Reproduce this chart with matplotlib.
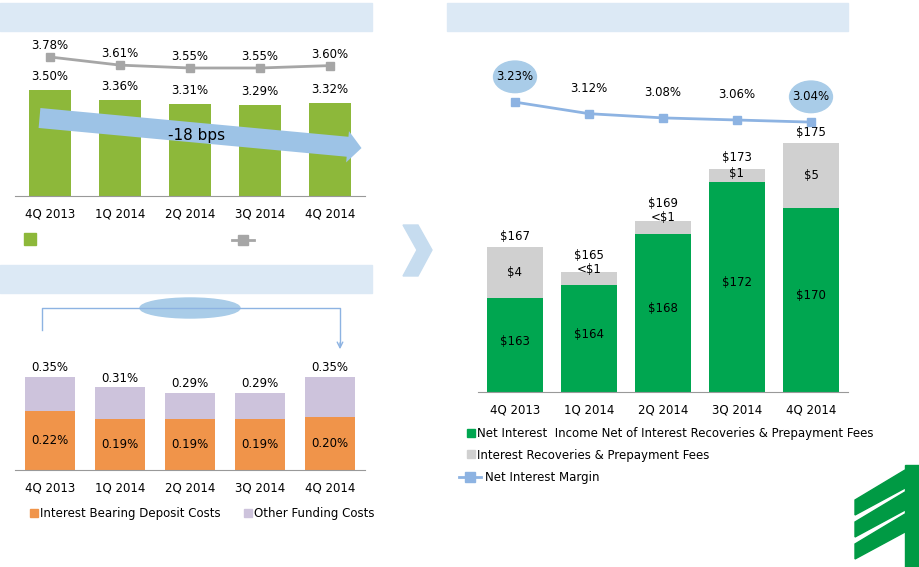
import matplotlib
matplotlib.use("Agg")
import matplotlib.pyplot as plt
from matplotlib.patches import Rectangle, Ellipse, FancyArrow, Polygon

W, H = 920, 567
cats = ["4Q 2013", "1Q 2014", "2Q 2014", "3Q 2014", "4Q 2014"]
yield_bars = [3.50, 3.36, 3.31, 3.29, 3.32]
yield_line = [3.78, 3.61, 3.55, 3.55, 3.60]
dep_costs = [0.22, 0.19, 0.19, 0.19, 0.20]
other_costs = [0.13, 0.12, 0.10, 0.10, 0.15]
total_costs = ["0.35%", "0.31%", "0.29%", "0.29%", "0.35%"]
nii_core = [163, 164, 168, 172, 170]
nii_rec = [4, 1, 1, 1, 5]
nii_total = [167, 165, 169, 173, 175]
rec_labels = ["$4", "<$1", "<$1", "$1", "$5"]
nim = [3.23, 3.12, 3.08, 3.06, 3.04]

FS = 8.5
fig = plt.figure(figsize=(9.2, 5.67), dpi=100)

def ax_px(x0, y0, x1, y1, **kw):
    return fig.add_axes([x0 / W, 1 - y1 / H, (x1 - x0) / W, (y1 - y0) / H], **kw)

bg = ax_px(0, 0, W, H)
bg.set_xlim(0, W); bg.set_ylim(H, 0); bg.axis("off")
hdr = "#dce9f5"
for r in [(0, 3, 372, 28), (0, 265, 372, 28), (447, 3, 401, 28)]:
    bg.add_patch(Rectangle((r[0], r[1]), r[2], r[3], color=hdr))
bg.add_patch(Polygon([(403, 225), (418, 225), (432, 250), (418, 276), (403, 276), (417, 250)], color="#c6dcef"))
bg.add_patch(Ellipse((190, 308), 100, 20, color="#a9cce8"))
bg.plot([42, 42, 340, 340], [330, 308, 308, 345], color="#8db3e2", lw=1)
bg.annotate("", xy=(340, 352), xytext=(340, 340), arrowprops=dict(arrowstyle="->", color="#8db3e2"))
bg.add_patch(Rectangle((24, 233), 12, 12, color="#8db83a"))
bg.plot([232, 254], [240, 240], color="#a6a6a6", lw=2)
bg.plot([243], [240], "s", color="#a6a6a6", ms=7)
# logo
for dy in [0, 22, 44]:
    bg.add_patch(Polygon([(905, 470 + dy), (905, 488 + dy), (855, 515 + dy), (855, 500 + dy)], color="#009a44"))
bg.add_patch(Rectangle((905, 465), 15, 102, color="#009a44"))

x = list(range(5))
# top-left
a1 = ax_px(15, 40, 365, 196)
a1.set_ylim(2.02, 4.2); a1.set_xlim(-0.5, 4.5)
a1.bar(x, [v - 2.02 for v in yield_bars], width=0.6, bottom=2.02, color="#8db83a")
for i, v in enumerate(yield_bars):
    a1.text(i, v + 0.1, f"{v:.2f}%", ha="center", va="bottom", fontsize=FS)
a1.set_xticks(x, cats, fontsize=FS)
a1.tick_params(length=0, pad=8)
for s in ["top", "right", "left"]:
    a1.spines[s].set_visible(False)
a1.spines["bottom"].set_color("#999999")
a1.set_yticks([])
a1.patch.set_alpha(0)
a1.add_patch(FancyArrow(-0.15, 3.11, 4.6, -0.42, width=0.28, head_width=0.44, head_length=0.2,
                        color="#9dc3e6", length_includes_head=True, lw=0))
a1.text(2.1, 2.87, "-18 bps", ha="center", va="center", fontsize=11)
a1b = ax_px(15, 40, 365, 196)
a1b.plot(x, yield_line, color="#a6a6a6", lw=2, marker="s", ms=6)
a1b.set_ylim(0.87, 4.136); a1b.set_xlim(-0.5, 4.5); a1b.axis("off")
for i, v in enumerate(yield_line):
    a1b.text(i, v + 0.1, f"{v:.2f}%", ha="center", va="bottom", fontsize=FS)

# bottom-left
a2 = ax_px(15, 350, 365, 470)
a2.bar(x, dep_costs, width=0.72, color="#f0944a")
a2.bar(x, other_costs, width=0.72, bottom=dep_costs, color="#cdc3dc")
a2.set_ylim(0, 0.45); a2.set_xlim(-0.5, 4.5)
for i in x:
    a2.text(i, dep_costs[i] / 2, f"{dep_costs[i]:.2f}%", ha="center", va="center", fontsize=FS)
    a2.text(i, dep_costs[i] + other_costs[i] + 0.01, total_costs[i], ha="center", va="bottom", fontsize=FS)
a2.set_xticks(x, cats, fontsize=FS); a2.set_yticks([])
a2.tick_params(length=0, pad=8)
for s in ["top", "right", "left"]:
    a2.spines[s].set_visible(False)
a2.spines["bottom"].set_color("#999999")
a2.patch.set_alpha(0)
bg.add_patch(Rectangle((30, 509), 8, 8, color="#f0944a"))
bg.text(40, 514, "Interest Bearing Deposit Costs", va="center", fontsize=FS)
bg.add_patch(Rectangle((244, 509), 8, 8, color="#cdc3dc"))
bg.text(254, 514, "Other Funding Costs", va="center", fontsize=FS)

# right
B = 155.8
a3 = ax_px(478, 140, 848, 392)
a3.set_ylim(B, 175.2); a3.set_xlim(-0.5, 4.5)
a3.bar(x, [v - B for v in nii_core], width=0.77, bottom=B, color="#00a650")
a3.bar(x, nii_rec, width=0.77, bottom=nii_core, color="#d0d0d0")
for i in x:
    a3.text(i, (B + nii_core[i]) / 2 + 0.3, f"${nii_core[i]}", ha="center", va="center", fontsize=FS)
    if nii_rec[i] >= 4:
        a3.text(i, nii_core[i] + nii_rec[i] / 2, rec_labels[i], ha="center", va="center", fontsize=FS)
        a3.text(i, nii_total[i] + 0.3, f"${nii_total[i]}", ha="center", va="bottom", fontsize=FS)
    elif i == 3:
        a3.text(i, nii_core[i] + 0.15, rec_labels[i], ha="center", va="bottom", fontsize=FS)
        a3.text(i, nii_total[i] + 0.35, f"${nii_total[i]}", ha="center", va="bottom", fontsize=FS)
    else:
        a3.text(i, nii_core[i] + nii_rec[i] - 0.3, rec_labels[i], ha="center", va="bottom", fontsize=FS)
        a3.text(i, nii_core[i] + nii_rec[i] + 0.8, f"${nii_total[i]}", ha="center", va="bottom", fontsize=FS)
a3.set_xticks(x, cats, fontsize=FS); a3.set_yticks([])
a3.tick_params(length=0, pad=8)
for s in ["top", "right", "left"]:
    a3.spines[s].set_visible(False)
a3.spines["bottom"].set_color("#999999")
a3.patch.set_alpha(0)
a4 = ax_px(478, 60, 848, 140)
a4.set_xlim(-0.5, 4.5); a4.set_ylim(2.87, 3.63); a4.axis("off")
for i in [0, 4]:
    a4.add_patch(Ellipse((i, nim[i] + 0.24), 0.58, 0.3, color="#a9cce8"))
a4.plot(x, nim, color="#8db3e2", lw=2, marker="s", ms=6)
for i, v in enumerate(nim):
    a4.text(i, v + 0.24, f"{v:.2f}%", ha="center", va="center", fontsize=FS)
bg.add_patch(Rectangle((467, 429), 8, 8, color="#00a650"))
bg.text(477, 434, "Net Interest  Income Net of Interest Recoveries & Prepayment Fees", va="center", fontsize=FS)
bg.add_patch(Rectangle((467, 450), 8, 8, color="#d0d0d0"))
bg.text(477, 455, "Interest Recoveries & Prepayment Fees", va="center", fontsize=FS)
bg.plot([459, 481], [477, 477], color="#8db3e2", lw=2)
bg.plot([470], [477], "s", color="#8db3e2", ms=7)
bg.text(485, 477, "Net Interest Margin", va="center", fontsize=FS)

fig.savefig("out.png", dpi=100)
